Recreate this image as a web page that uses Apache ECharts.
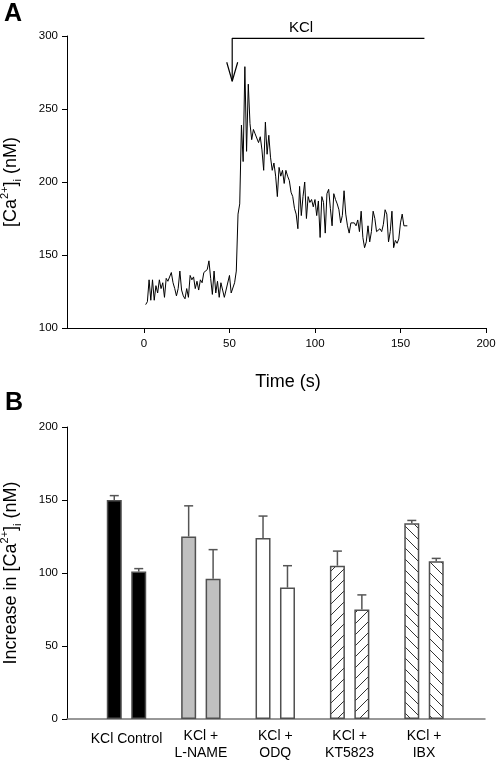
<!DOCTYPE html>
<html><head><meta charset="utf-8">
<script src="https://cdn.jsdelivr.net/npm/echarts@6/dist/echarts.min.js"></script>
<style>html,body{margin:0;padding:0;background:#fff}#c{width:496px;height:762px}</style>
</head><body><div id="c"></div><script>
// ---------- Panel A: [Ca2+]i trace ----------
const timeS = [1,2,3,4,5,6,7,8,9,10,11,12,13,14,15,16,17,18,19,20,21,22,23,24,25,26,27,28,29,30,
31,32,33,34,35,36,37,38,39,40,41,42,43,44,45,46,47,48,49,50,51,52,53,54,55,56,57,58,59,60,
61,62,63,64,65,66,67,68,69,70,71,72,73,74,75,76,77,78,79,80,81,82,83,84,85,86,87,88,89,90,
91,92,93,94,95,96,97,98,99,100,101,102,103,104,105,106,107,108,109,110,111,112,113,114,115,116,117,118,119,120,
121,122,123,124,125,126,127,128,129,130,131,132,133,134,135,136,137,138,139,140,141,142,143,144,145,146,147,148,149,150,
151,152,153,154];
const caValues = [116,118,133,119,133,119,129,124,133,127,
131,121,134,132,132,138,131,127,122,127,
139,126,122,120,127,121,136,133,135,127,
132,126,133,131,138,137,140,146,134,123,
139,124,132,121,131,130,121,126,125,136,
124,124,131,139,178,185,239,214,279,221,
267,240,229,236,233,232,227,231,222,208,
241,219,232,217,208,213,204,190,210,204,
208,199,208,204,201,193,190,182,178,168,
197,177,190,200,175,190,186,188,183,188,
177,187,162,190,186,165,192,195,182,170,
192,188,185,181,172,177,194,178,170,165,
172,173,172,170,174,166,180,162,155,159,
170,159,166,180,175,166,165,168,166,171,
181,178,159,166,180,155,160,158,161,172,
178,170,169,170];
const xTicksA = [0, 50, 100, 150, 200];
// KCl application annotation (data units)
const kclStart = 51.6, kclEnd = 164, kclLevel = 298.4, kclTip = 269, kclHeadBase = 282, kclHeadHalf = 3.2;

// ---------- Panel B: bar chart ----------
const categories = ['KCl Control', 'KCl +\nL-NAME', 'KCl +\nODQ', 'KCl +\nKT5823', 'KCl +\nIBX'];
const catPos = [1, 2, 3, 4, 5];
const firstBar = [150, 125, 124, 105, 134];
const firstSem = [3, 21, 15, 10, 2];
const secondBar = [101, 96, 90, 75, 108];
const secondSem = [2, 20, 15, 10, 2];

const FONT = '"Liberation Sans", Arial, sans-serif';
const BAR_W = 15, BAR_GAP = 0.63;

function hatch(dir) {
  const s = 11, c = document.createElement('canvas');
  c.width = s; c.height = s;
  const g = c.getContext('2d');
  g.fillStyle = '#fff'; g.fillRect(0, 0, s, s);
  g.strokeStyle = '#333'; g.lineWidth = 1;
  g.beginPath();
  if (dir === '/') {
    g.moveTo(-1, 1); g.lineTo(1, -1);
    g.moveTo(0, s); g.lineTo(s, 0);
    g.moveTo(s - 1, s + 1); g.lineTo(s + 1, s - 1);
  } else {
    g.moveTo(-1, s - 1); g.lineTo(1, s + 1);
    g.moveTo(0, 0); g.lineTo(s, s);
    g.moveTo(s - 1, -1); g.lineTo(s + 1, 1);
  }
  g.stroke();
  return { image: c, repeat: 'repeat' };
}
const fills = ['#000', '#c0c0c0', '#fff', hatch('/'), hatch('\\')];

const chart = echarts.init(document.getElementById('c'), null, { renderer: 'canvas' });

const barData = (vals) => vals.map((v, i) => ({ value: [catPos[i], v], itemStyle: { color: fills[i] } }));
const errData = (vals, sem) => vals.map((v, i) => [catPos[i], v, v + sem[i]]);
const errRender = (side) => function (params, api) {
  const off = side * (BAR_W + BAR_W * BAR_GAP) / 2;
  const p0 = api.coord([api.value(0), api.value(1)]);
  const p1 = api.coord([api.value(0), api.value(2)]);
  const x = p0[0] + off;
  const st = { stroke: '#555', lineWidth: 1.5 };
  return { type: 'group', children: [
    { type: 'line', shape: { x1: x, y1: p0[1], x2: x, y2: p1[1] }, style: st },
    { type: 'line', shape: { x1: x - 4.5, y1: p1[1], x2: x + 4.5, y2: p1[1] }, style: st }
  ]};
};

const axisTxt = { color: '#000', fontFamily: FONT, fontSize: 11.5 };
const nameRich = {
  sup: { fontSize: 11, lineHeight: 11, verticalAlign: 'top', fontFamily: FONT, color: '#000' },
  sub: { fontSize: 11, lineHeight: 11, verticalAlign: 'bottom', fontFamily: FONT, color: '#000' }
};

chart.setOption({
  backgroundColor: '#fff',
  animation: false,
  textStyle: { fontFamily: FONT },
  grid: [
    { left: 67, right: 10, top: 36, height: 292, outerBoundsMode: 'none', containLabel: false },
    { left: 67, right: 11, top: 427, height: 292, outerBoundsMode: 'none', containLabel: false }
  ],
  xAxis: [
    { gridIndex: 0, type: 'value', min: -45, max: 200,
      axisLine: { onZero: false, lineStyle: { color: '#000', width: 1 } },
      axisTick: { show: true, length: 5, customValues: xTicksA, lineStyle: { color: '#000' } },
      axisLabel: { customValues: xTicksA, margin: 10, ...axisTxt },
      splitLine: { show: false },
      name: 'Time (s)', nameLocation: 'middle', nameGap: 45,
      nameTextStyle: { fontSize: 18, color: '#000', fontFamily: FONT, padding: [0, 0, 0, 23] } },
    { gridIndex: 1, type: 'value', min: 0.2, max: 5.82,
      axisLine: { onZero: false, lineStyle: { color: '#777', width: 1.5 } },
      axisTick: { show: false },
      axisLabel: { customValues: catPos, margin: 9, color: '#000', fontFamily: FONT, fontSize: 14, lineHeight: 17,
        formatter: (v) => v === 1 ? '{one|' + categories[0] + '}' : categories[Math.round(v) - 1],
        rich: { one: { padding: [5, 0, 0, 0], fontSize: 14, fontFamily: FONT, color: '#000' } } },
      splitLine: { show: false } }
  ],
  yAxis: [
    { gridIndex: 0, type: 'value', min: 100, max: 300, interval: 50,
      axisLine: { show: true, onZero: false, lineStyle: { color: '#000', width: 1 } },
      axisTick: { show: true, length: 5, lineStyle: { color: '#000' } },
      axisLabel: { margin: 9, ...axisTxt },
      splitLine: { show: false },
      name: '[Ca{sup|2+}]{sub|i} (nM)', nameLocation: 'middle', nameGap: 44,
      nameTextStyle: { fontSize: 18, lineHeight: 24, color: '#000', fontFamily: FONT, rich: nameRich } },
    { gridIndex: 1, type: 'value', min: 0, max: 200, interval: 50,
      axisLine: { show: true, onZero: false, lineStyle: { color: '#000', width: 1 } },
      axisTick: { show: true, length: 5, lineStyle: { color: '#000' } },
      axisLabel: { margin: 9, ...axisTxt },
      splitLine: { show: false },
      name: 'Increase in [Ca{sup|2+}]{sub|i} (nM)', nameLocation: 'middle', nameGap: 44,
      nameTextStyle: { fontSize: 18, lineHeight: 24, color: '#000', fontFamily: FONT, rich: nameRich } }
  ],
  graphic: [
    { type: 'text', left: 4, top: 2, style: { text: 'A', fontSize: 25, fontWeight: 'bold', fontFamily: FONT, fill: '#000' } },
    { type: 'text', left: 5, top: 391, style: { text: 'B', fontSize: 25, fontWeight: 'bold', fontFamily: FONT, fill: '#000' } },
    { type: 'text', x: 301, y: 28, style: { text: 'KCl', fontSize: 15, fontFamily: FONT, fill: '#000', align: 'center', verticalAlign: 'middle' } }
  ],
  series: [
    { type: 'line', xAxisIndex: 0, yAxisIndex: 0, data: timeS.map((t, i) => [t, caValues[i]]),
      symbol: 'none', lineStyle: { color: '#000', width: 1 }, silent: true },
    { type: 'line', xAxisIndex: 0, yAxisIndex: 0,
      data: [[kclStart, kclTip], [kclStart, kclLevel], [kclEnd, kclLevel]],
      symbol: 'none', lineStyle: { color: '#000', width: 1.2 }, silent: true, clip: false },
    { type: 'line', xAxisIndex: 0, yAxisIndex: 0,
      data: [[kclStart - kclHeadHalf, kclHeadBase], [kclStart, kclTip], [kclStart + kclHeadHalf, kclHeadBase]],
      symbol: 'none', lineStyle: { color: '#000', width: 1.2 }, silent: true, clip: false },
    { type: 'bar', xAxisIndex: 1, yAxisIndex: 1, data: barData(firstBar), barWidth: BAR_W, barGap: (BAR_GAP * 100) + '%',
      itemStyle: { borderColor: '#505050', borderWidth: 1.5 } },
    { type: 'bar', xAxisIndex: 1, yAxisIndex: 1, data: barData(secondBar), barWidth: BAR_W, barGap: (BAR_GAP * 100) + '%',
      itemStyle: { borderColor: '#505050', borderWidth: 1.5 } },
    { type: 'custom', xAxisIndex: 1, yAxisIndex: 1, data: errData(firstBar, firstSem), renderItem: errRender(-1), z: 3 },
    { type: 'custom', xAxisIndex: 1, yAxisIndex: 1, data: errData(secondBar, secondSem), renderItem: errRender(1), z: 3 }
  ]
});
</script></body></html>
